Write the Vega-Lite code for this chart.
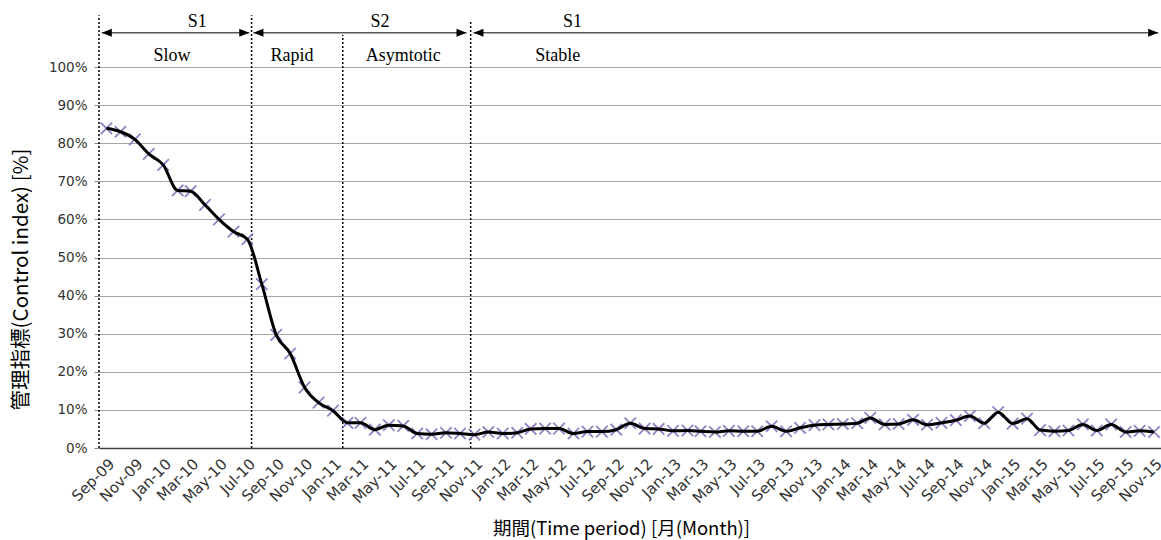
{
  "$schema": "https://vega.github.io/schema/vega-lite/v6.json",
  "width": 1062,
  "height": 381,
  "autosize": {"type": "none"},
  "padding": {"left": 99, "top": 67, "right": 0, "bottom": 92},
  "background": "white",
  "config": {"view": {"stroke": null}},
  "encoding": {
    "x": {
      "field": "date",
      "type": "temporal",
      "scale": {
        "type": "utc",
        "nice": false,
        "domain": [
          {"year": 2009, "month": "August", "date": 16, "utc": true},
          {"year": 2015, "month": "November", "date": 16, "utc": true}
        ]
      },
      "axis": {
        "labelExpr": "utcFormat(datum.value, '%b-%y')",
        "tickCount": {"interval": "month", "step": 2},
        "labelAngle": -45,
        "labelFont": "DejaVu Sans",
        "labelFontSize": 15,
        "labelColor": "#333333",
        "labelPadding": 8,
        "labelFlush": false,
        "labelOverlap": false,
        "ticks": false,
        "grid": false,
        "domainColor": "#404040",
        "domainWidth": 1.5,
        "title": "期間(Time period) [月(Month)]",
        "titleFont": "Noto Sans CJK JP",
        "titleFontSize": 18.5,
        "titleFontWeight": "normal",
        "titleColor": "black",
        "titleX": 522,
        "titleY": 80,
        "titleBaseline": "middle",
        "titleAlign": "center"
      }
    },
    "y": {
      "field": "pct",
      "type": "quantitative",
      "scale": {"domain": [0, 100], "nice": false},
      "axis": {
        "values": [0, 10, 20, 30, 40, 50, 60, 70, 80, 90, 100],
        "labelExpr": "datum.value + '%'",
        "domain": false,
        "ticks": true,
        "tickSize": 5,
        "tickColor": "#8c8c8c",
        "grid": true,
        "gridColor": "#a6a6a6",
        "gridWidth": 1,
        "labelFont": "DejaVu Sans",
        "labelFontSize": 13.5,
        "labelColor": "#333333",
        "labelPadding": 7,
        "title": "管理指標(Control index) [%]",
        "titleFont": "Noto Sans CJK JP",
        "titleFontSize": 20.5,
        "titleFontWeight": "normal",
        "titleColor": "black",
        "titleX": -78,
        "titleY": 212,
        "titleAngle": -90,
        "titleBaseline": "middle",
        "titleAlign": "center"
      }
    }
  },
  "layer": [
    {
      "data": {"values": [
        {"date": "2009-08-16", "pct": 0, "top": 113.6},
        {"date": "2010-07-10", "pct": 0, "top": 113.6},
        {"date": "2011-01-22", "pct": 0, "top": 108.4},
        {"date": "2011-10-24", "pct": 0, "top": 112.3}
      ]},
      "mark": {"type": "rule", "color": "black", "strokeWidth": 1.5, "strokeDash": [2, 2]},
      "encoding": {"y2": {"field": "top"}}
    },
    {
      "data": {"values": [
        {"date": "2009-09-01", "pct": 83.9},
        {"date": "2009-10-01", "pct": 83.0},
        {"date": "2009-11-01", "pct": 81.0},
        {"date": "2009-12-01", "pct": 77.2},
        {"date": "2010-01-01", "pct": 74.3},
        {"date": "2010-02-01", "pct": 67.6},
        {"date": "2010-03-01", "pct": 67.4},
        {"date": "2010-04-01", "pct": 63.8},
        {"date": "2010-05-01", "pct": 60.0},
        {"date": "2010-06-01", "pct": 56.8},
        {"date": "2010-07-01", "pct": 54.8},
        {"date": "2010-08-01", "pct": 43.0},
        {"date": "2010-09-01", "pct": 29.7},
        {"date": "2010-10-01", "pct": 24.8},
        {"date": "2010-11-01", "pct": 15.9},
        {"date": "2010-12-01", "pct": 11.9},
        {"date": "2011-01-01", "pct": 9.8},
        {"date": "2011-02-01", "pct": 6.6},
        {"date": "2011-03-01", "pct": 6.6},
        {"date": "2011-04-01", "pct": 4.8},
        {"date": "2011-05-01", "pct": 6.0},
        {"date": "2011-06-01", "pct": 5.8},
        {"date": "2011-07-01", "pct": 3.8},
        {"date": "2011-08-01", "pct": 3.6},
        {"date": "2011-09-01", "pct": 4.0},
        {"date": "2011-10-01", "pct": 3.8},
        {"date": "2011-11-01", "pct": 3.5},
        {"date": "2011-12-01", "pct": 4.2},
        {"date": "2012-01-01", "pct": 3.8},
        {"date": "2012-02-01", "pct": 4.0},
        {"date": "2012-03-01", "pct": 5.0},
        {"date": "2012-04-01", "pct": 5.1},
        {"date": "2012-05-01", "pct": 5.1},
        {"date": "2012-06-01", "pct": 3.8},
        {"date": "2012-07-01", "pct": 4.3},
        {"date": "2012-08-01", "pct": 4.3},
        {"date": "2012-09-01", "pct": 4.8},
        {"date": "2012-10-01", "pct": 6.5},
        {"date": "2012-11-01", "pct": 5.1},
        {"date": "2012-12-01", "pct": 5.0},
        {"date": "2013-01-01", "pct": 4.5},
        {"date": "2013-02-01", "pct": 4.6},
        {"date": "2013-03-01", "pct": 4.4},
        {"date": "2013-04-01", "pct": 4.2},
        {"date": "2013-05-01", "pct": 4.5},
        {"date": "2013-06-01", "pct": 4.4},
        {"date": "2013-07-01", "pct": 4.4},
        {"date": "2013-08-01", "pct": 5.7},
        {"date": "2013-09-01", "pct": 4.4},
        {"date": "2013-10-01", "pct": 5.3},
        {"date": "2013-11-01", "pct": 6.0},
        {"date": "2013-12-01", "pct": 6.2},
        {"date": "2014-01-01", "pct": 6.3},
        {"date": "2014-02-01", "pct": 6.5},
        {"date": "2014-03-01", "pct": 7.9},
        {"date": "2014-04-01", "pct": 6.2},
        {"date": "2014-05-01", "pct": 6.3},
        {"date": "2014-06-01", "pct": 7.4},
        {"date": "2014-07-01", "pct": 6.1},
        {"date": "2014-08-01", "pct": 6.6},
        {"date": "2014-09-01", "pct": 7.3},
        {"date": "2014-10-01", "pct": 8.4},
        {"date": "2014-11-01", "pct": 6.5},
        {"date": "2014-12-01", "pct": 9.4},
        {"date": "2015-01-01", "pct": 6.4},
        {"date": "2015-02-01", "pct": 7.7},
        {"date": "2015-03-01", "pct": 4.7},
        {"date": "2015-04-01", "pct": 4.4},
        {"date": "2015-05-01", "pct": 4.6},
        {"date": "2015-06-01", "pct": 6.2},
        {"date": "2015-07-01", "pct": 4.6},
        {"date": "2015-08-01", "pct": 6.2},
        {"date": "2015-09-01", "pct": 4.2},
        {"date": "2015-10-01", "pct": 4.5},
        {"date": "2015-11-01", "pct": 4.2}
      ]},
      "layer": [
        {
          "mark": {"type": "point", "shape": "M-1,-1L1,1M-1,1L1,-1", "filled": false, "color": "#8a73bd", "strokeWidth": 1.8, "size": 130, "opacity": 0.9}
        },
        {
          "mark": {"type": "line", "color": "black", "strokeWidth": 3, "interpolate": "monotone"}
        }
      ]
    },
    {
      "data": {"values": [
        {"date": "2009-08-22", "end": "2010-07-05", "pct": 109.0},
        {"date": "2010-07-14", "end": "2011-10-15", "pct": 109.0},
        {"date": "2011-10-30", "end": "2015-11-10", "pct": 109.0}
      ]},
      "layer": [
        {
          "mark": {"type": "rule", "color": "#555555", "strokeWidth": 1.5},
          "encoding": {"x2": {"field": "end"}}
        },
        {
          "mark": {"type": "point", "shape": "M0,0L2,-0.8L2,0.8Z", "filled": true, "color": "black", "size": 100, "opacity": 1}
        }
      ]
    },
    {
      "data": {"values": [
        {"date": "2010-07-05", "pct": 109.0},
        {"date": "2011-10-15", "pct": 109.0},
        {"date": "2015-11-10", "pct": 109.0}
      ]},
      "mark": {"type": "point", "shape": "M0,0L-2,-0.8L-2,0.8Z", "filled": true, "color": "black", "size": 100, "opacity": 1}
    },
    {
      "data": {"values": [
        {"date": "2010-03-15", "pct": 111.8, "label": "S1"},
        {"date": "2011-04-12", "pct": 111.8, "label": "S2"},
        {"date": "2012-05-30", "pct": 111.8, "label": "S1"},
        {"date": "2010-01-20", "pct": 102.9, "label": "Slow"},
        {"date": "2010-10-05", "pct": 102.9, "label": "Rapid"},
        {"date": "2011-06-01", "pct": 102.9, "label": "Asymtotic"},
        {"date": "2012-04-28", "pct": 102.9, "label": "Stable"}
      ]},
      "mark": {"type": "text", "font": "Liberation Serif", "fontSize": 18, "color": "black", "align": "center", "baseline": "middle"},
      "encoding": {"text": {"field": "label"}}
    }
  ]
}
